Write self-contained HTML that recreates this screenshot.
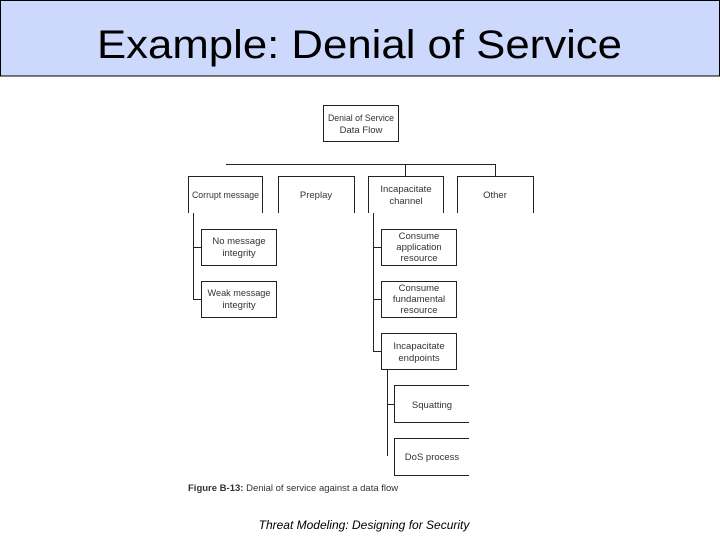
<!DOCTYPE html>
<html><head><meta charset="utf-8"><style>
html,body{margin:0;padding:0;background:#fff;}
svg{display:block;}
</style></head><body>
<svg width="720" height="540" xmlns="http://www.w3.org/2000/svg" font-family="Liberation Sans, sans-serif">
<rect x="0.5" y="0.5" width="719" height="75.5" fill="#ccd9fc" stroke="#000" stroke-width="1"/>
<text x="97" y="58" font-size="40" textLength="525" lengthAdjust="spacingAndGlyphs">Example: Denial of Service</text>
<g stroke="#222" stroke-width="1" fill="none">
<rect x="323.5" y="105.5" width="75" height="36"/>
<line x1="226" y1="164.5" x2="495" y2="164.5"/>
<line x1="405.5" y1="164" x2="405.5" y2="176"/>
<line x1="495.5" y1="164" x2="495.5" y2="176"/>
<path d="M188.5 213V176.5H262.5V213"/>
<path d="M278.5 213V176.5H354.5V213"/>
<path d="M368.5 213V176.5H443.5V213"/>
<path d="M457.5 213V176.5H533.5V213"/>
<line x1="193.5" y1="213" x2="193.5" y2="299"/>
<line x1="193" y1="247.5" x2="201" y2="247.5"/>
<line x1="193" y1="299.5" x2="201" y2="299.5"/>
<rect x="201.5" y="229.5" width="75" height="36"/>
<rect x="201.5" y="281.5" width="75" height="36"/>
<line x1="373.5" y1="213" x2="373.5" y2="352"/>
<line x1="373" y1="247.5" x2="381" y2="247.5"/>
<line x1="373" y1="299.5" x2="381" y2="299.5"/>
<line x1="373" y1="351.5" x2="381" y2="351.5"/>
<rect x="381.5" y="229.5" width="75" height="36"/>
<rect x="381.5" y="281.5" width="75" height="36"/>
<rect x="381.5" y="333.5" width="75" height="36"/>
<line x1="387.5" y1="370" x2="387.5" y2="456"/>
<line x1="387" y1="404.5" x2="394" y2="404.5"/>
<path d="M469 385.5H394.5V422.5H469"/>
<path d="M469 438.5H394.5V475.5H469"/>
</g>
<g font-size="9.5" fill="#333" text-anchor="middle">
<text x="361" y="121" textLength="66" lengthAdjust="spacingAndGlyphs">Denial of Service</text>
<text x="361" y="133">Data Flow</text>
<text x="225.5" y="198" textLength="67" lengthAdjust="spacingAndGlyphs">Corrupt message</text>
<text x="316" y="198">Preplay</text>
<text x="406" y="192">Incapacitate</text>
<text x="406" y="204">channel</text>
<text x="495" y="198">Other</text>
<text x="239" y="244">No message</text>
<text x="239" y="256">integrity</text>
<text x="239" y="296" textLength="63" lengthAdjust="spacingAndGlyphs">Weak message</text>
<text x="239" y="308">integrity</text>
<text x="419" y="239">Consume</text>
<text x="419" y="250">application</text>
<text x="419" y="261">resource</text>
<text x="419" y="291">Consume</text>
<text x="419" y="302">fundamental</text>
<text x="419" y="313">resource</text>
<text x="419" y="349">Incapacitate</text>
<text x="419" y="361">endpoints</text>
<text x="432" y="408">Squatting</text>
<text x="432" y="460">DoS process</text>
</g>
<text x="188" y="491" font-size="9.5" fill="#333"><tspan font-weight="bold">Figure B-13:</tspan> Denial of service against a data flow</text>
<text x="364" y="529" font-size="12" font-style="italic" text-anchor="middle">Threat Modeling: Designing for Security</text>
</svg>
</body></html>
